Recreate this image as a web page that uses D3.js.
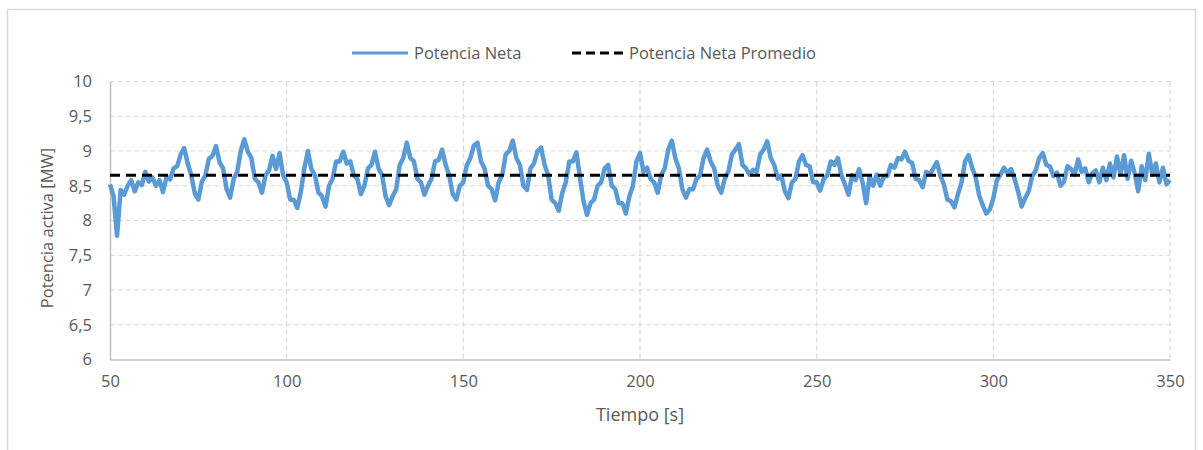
<!DOCTYPE html>
<html>
<head>
<meta charset="utf-8">
<script src="https://cdn.jsdelivr.net/npm/d3@7"></script>
<style>
  body { margin: 0; background: #fff; }
  text { font-family: "Open Sans", "Noto Sans", sans-serif; fill: #595959; }
</style>
</head>
<body>
<div class="chart"></div>
<script>
'use strict';

// Potencia neta [MW], one sample per second from t = 50 s to t = 350 s
const startTime = 50;
const netPower = [
  8.52, 8.35, 7.78, 8.44, 8.37, 8.50, 8.58, 8.42, 8.55, 8.51,
  8.70, 8.56, 8.62, 8.50, 8.58, 8.41, 8.63, 8.59, 8.75, 8.78,
  8.95, 9.04, 8.82, 8.65, 8.39, 8.30, 8.56, 8.65, 8.89, 8.93,
  9.07, 8.84, 8.75, 8.45, 8.33, 8.60, 8.70, 9.00, 9.17, 8.99,
  8.90, 8.60, 8.55, 8.40, 8.65, 8.72, 8.93, 8.74, 8.97, 8.65,
  8.55, 8.30, 8.30, 8.18, 8.41, 8.75, 9.00, 8.74, 8.65, 8.40,
  8.35, 8.20, 8.50, 8.60, 8.85, 8.85, 8.99, 8.82, 8.85, 8.65,
  8.60, 8.38, 8.50, 8.75, 8.80, 8.99, 8.75, 8.65, 8.35, 8.22,
  8.35, 8.45, 8.80, 8.90, 9.12, 8.90, 8.85, 8.60, 8.55, 8.37,
  8.50, 8.60, 8.85, 8.87, 9.02, 8.80, 8.65, 8.38, 8.30, 8.50,
  8.55, 8.80, 8.90, 9.08, 9.12, 8.85, 8.75, 8.50, 8.45, 8.29,
  8.55, 8.65, 8.95, 9.00, 9.15, 8.90, 8.80, 8.50, 8.44, 8.75,
  8.82, 9.00, 9.05, 8.80, 8.65, 8.30, 8.25, 8.14, 8.40, 8.55,
  8.85, 8.85, 8.98, 8.62, 8.28, 8.08, 8.25, 8.30, 8.50, 8.55,
  8.75, 8.80, 8.50, 8.45, 8.25, 8.25, 8.10, 8.35, 8.50, 8.85,
  8.97, 8.70, 8.76, 8.60, 8.55, 8.40, 8.65, 8.75, 9.02, 9.15,
  8.90, 8.75, 8.45, 8.33, 8.45, 8.45, 8.60, 8.65, 8.90, 9.02,
  8.85, 8.75, 8.50, 8.40, 8.60, 8.70, 8.95, 9.02, 9.10, 8.80,
  8.75, 8.66, 8.73, 8.70, 8.95, 9.02, 9.14, 8.90, 8.80, 8.60,
  8.65, 8.42, 8.32, 8.55, 8.60, 8.85, 8.94, 8.80, 8.78, 8.55,
  8.55, 8.43, 8.60, 8.65, 8.85, 8.80, 8.90, 8.65, 8.52, 8.37,
  8.65, 8.58, 8.74, 8.55, 8.25, 8.64, 8.50, 8.66, 8.50, 8.63,
  8.64, 8.80, 8.76, 8.90, 8.88, 8.99, 8.86, 8.83, 8.60, 8.58,
  8.48, 8.70, 8.66, 8.75, 8.84, 8.65, 8.52, 8.30, 8.28, 8.19,
  8.38, 8.55, 8.85, 8.94, 8.76, 8.62, 8.36, 8.22, 8.10, 8.16,
  8.32, 8.58, 8.66, 8.76, 8.68, 8.74, 8.60, 8.42, 8.20, 8.32,
  8.42, 8.64, 8.72, 8.90, 8.97, 8.80, 8.78, 8.64, 8.69, 8.50,
  8.56, 8.78, 8.74, 8.66, 8.88, 8.70, 8.75, 8.55, 8.68, 8.72,
  8.55, 8.76, 8.58, 8.82, 8.62, 8.92, 8.66, 8.94, 8.60, 8.86,
  8.68, 8.42, 8.78, 8.58, 8.96, 8.66, 8.82, 8.55, 8.76, 8.52,
  8.58
];
const meanPower = 8.65;

const xTicks = [50, 100, 150, 200, 250, 300, 350];
const yTicks = [6, 6.5, 7, 7.5, 8, 8.5, 9, 9.5, 10];
const seriesNames = ["Potencia Neta", "Potencia Neta Promedio"];

// Canvas size
const width = 1203, height = 450;
const margin = {top: 81.5, left: 110, right: 33, bottom: 90.5};
const w = width - margin.left - margin.right;
const h = height - margin.top - margin.bottom;

const svg = d3.select(".chart")
  .append("svg")
  .attr("width", width)
  .attr("height", height);

// outer chart border
svg.append("path")
  .attr("d", `M7.5,460 V9.5 H1195.5 V460`)
  .attr("fill", "none")
  .attr("stroke", "#d9d9d9")
  .attr("stroke-width", 1.5);

const g = svg.append("g")
  .attr("transform", `translate(${margin.left}, ${margin.top})`);

const x = d3.scaleLinear().domain([50, 350]).range([0, w]);
const y = d3.scaleLinear().domain([6, 10]).range([h, 0]);

// grid
g.append("g")
  .selectAll("line")
  .data(yTicks.filter(d => d !== 6))
  .join("line")
  .attr("x1", 0).attr("x2", w)
  .attr("y1", d => y(d)).attr("y2", d => y(d))
  .attr("stroke", "#d9d9d9")
  .attr("stroke-width", 1.2)
  .attr("stroke-dasharray", "5,3");
g.append("g")
  .selectAll("line")
  .data(xTicks.filter(d => d !== 50))
  .join("line")
  .attr("x1", d => x(d)).attr("x2", d => x(d))
  .attr("y1", 0).attr("y2", h)
  .attr("stroke", "#d9d9d9")
  .attr("stroke-width", 1.2)
  .attr("stroke-dasharray", "5,3");

// axes
const xAxis = d3.axisBottom(x).tickValues(xTicks).tickSize(0).tickPadding(16)
  .tickFormat(d3.format("d"));
g.append("g")
  .attr("transform", `translate(0, ${h})`)
  .call(xAxis)
  .call(s => s.select(".domain").attr("stroke", "#bfbfbf").attr("stroke-width", 1.5))
  .selectAll("text")
  .style("font-size", "16.5px")
  .attr("fill", "#595959");

const yAxis = d3.axisLeft(y).tickValues(yTicks).tickSize(0).tickPadding(18)
  .tickFormat(d => String(d).replace(".", ","));
g.append("g")
  .call(yAxis)
  .call(s => s.select(".domain").attr("stroke", "#bfbfbf").attr("stroke-width", 1.5))
  .selectAll("text")
  .style("font-size", "16.5px")
  .attr("fill", "#595959");

// axis titles
svg.append("text")
  .attr("x", 640)
  .attr("y", 421)
  .attr("text-anchor", "middle")
  .style("font-size", "18px")
  .text("Tiempo [s]");
svg.append("text")
  .attr("transform", `translate(53, 228) rotate(-90)`)
  .attr("text-anchor", "middle")
  .style("font-size", "16.5px")
  .text("Potencia activa [MW]");

// series
const line = d3.line()
  .x((d, i) => x(startTime + i))
  .y(d => y(d));
g.append("path")
  .datum(netPower)
  .attr("fill", "none")
  .attr("stroke", "#5b9bd5")
  .attr("stroke-width", 4.5)
  .attr("stroke-linejoin", "round")
  .attr("d", line);

g.append("line")
  .attr("x1", 0).attr("x2", w)
  .attr("y1", y(meanPower)).attr("y2", y(meanPower))
  .attr("stroke", "#000")
  .attr("stroke-width", 3)
  .attr("stroke-dasharray", "10,6");

// legend
const legend = svg.append("g").attr("transform", "translate(0, 53)");
legend.append("line")
  .attr("x1", 352).attr("x2", 408).attr("y1", 0).attr("y2", 0)
  .attr("stroke", "#5b9bd5").attr("stroke-width", 3);
legend.append("text")
  .attr("x", 414).attr("y", 6)
  .style("font-size", "16.5px")
  .text(seriesNames[0]);
legend.append("line")
  .attr("x1", 572).attr("x2", 624).attr("y1", 0).attr("y2", 0)
  .attr("stroke", "#000").attr("stroke-width", 3)
  .attr("stroke-dasharray", "9,5");
legend.append("text")
  .attr("x", 629).attr("y", 6)
  .style("font-size", "16.5px")
  .text(seriesNames[1]);
</script>
</body>
</html>
